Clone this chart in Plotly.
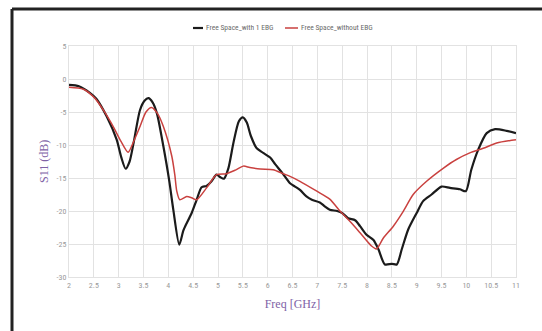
import plotly.graph_objects as go

# Measured S11 sweeps (GHz, dB)
freq_ebg = [2.0, 2.2, 2.42, 2.55, 2.76, 2.96, 3.05, 3.14, 3.22, 3.3, 3.43, 3.52, 3.6, 3.68,
            3.77, 3.9, 4.02, 4.1, 4.22, 4.3, 4.34, 4.47, 4.57, 4.67, 4.77, 4.87, 4.97, 5.05,
            5.12, 5.21, 5.31, 5.42, 5.5, 5.58, 5.66, 5.78, 5.91, 6.05, 6.15, 6.3, 6.45, 6.55,
            6.65, 6.78, 6.89, 7.05, 7.15, 7.25, 7.4, 7.5, 7.62, 7.76, 7.86, 7.99, 8.13, 8.23,
            8.36, 8.5, 8.6, 8.7, 8.83, 9.0, 9.13, 9.3, 9.5, 9.67, 9.87, 9.99, 10.1, 10.24,
            10.41, 10.58, 10.81, 11.0]
s11_ebg = [-0.9, -1.1, -2.1, -3.0, -5.7, -9.2, -11.8, -13.6, -12.5, -9.7, -4.7, -3.3, -2.9, -3.5,
           -5.2, -10.2, -15.5, -19.8, -25.1, -23.0, -22.3, -20.3, -18.3, -16.4, -16.2, -15.5, -14.5, -14.9,
           -15.1, -13.5, -9.7, -6.4, -5.8, -6.6, -8.6, -10.5, -11.2, -11.9, -12.9, -14.3, -15.8, -16.3,
           -16.8, -17.8, -18.3, -18.7, -19.3, -19.8, -20.0, -20.3, -21.1, -21.4, -22.3, -23.6, -24.4, -25.8,
           -28.1, -28.0, -28.1, -25.8, -22.8, -20.3, -18.5, -17.5, -16.3, -16.5, -16.7, -17.0, -13.75, -10.7,
           -8.2, -7.6, -7.85, -8.2]

freq_plain = [2.0, 2.29, 2.52, 2.7, 2.89, 3.05, 3.19, 3.3, 3.43, 3.55, 3.66, 3.78, 3.9, 4.07,
              4.13, 4.17, 4.23, 4.37, 4.47, 4.57, 4.77, 4.97, 5.17, 5.35, 5.51, 5.64, 5.85, 6.11,
              6.31, 6.45, 6.65, 6.99, 7.25, 7.46, 7.66, 7.86, 8.09, 8.19, 8.33, 8.53, 8.73, 8.93,
              9.2, 9.54, 9.8, 10.07, 10.34, 10.61, 11.0]
s11_plain = [-1.25, -1.55, -2.9, -4.8, -7.2, -9.5, -11.1, -9.5, -7.2, -5.0, -4.3, -5.2, -7.2, -11.7,
             -14.5, -17.0, -18.3, -17.8, -18.0, -18.3, -16.5, -14.5, -14.35, -13.8, -13.2, -13.4, -13.65, -13.75,
             -14.35, -14.75, -15.5, -17.0, -18.2, -20.05, -21.6, -23.3, -25.3, -25.75, -24.1, -22.3, -20.05, -17.5,
             -15.5, -13.5, -12.2, -11.2, -10.5, -9.7, -9.2]

series_names = ["Free Space_with 1 EBG", "Free Space_without EBG"]
x_ticks = [2, 2.5, 3, 3.5, 4, 4.5, 5, 5.5, 6, 6.5, 7, 7.5, 8, 8.5, 9, 9.5, 10, 10.5, 11]
y_ticks = [5, 0, -5, -10, -15, -20, -25, -30]

BLACK = "#1b1b1b"
RED = "#c9413f"
PURPLE = "#7e62a6"
TICK_GREY = "#9a9a9a"
GRID = "#e2e2e2"
TICK_FONT = "Liberation Sans Narrow, Roboto Condensed, Arial Narrow, sans-serif"
TITLE_FONT = "Liberation Serif, DejaVu Serif, serif"

W, H = 542, 331
ML, MR, MT, MB = 69, 26, 46, 54
PW, PH = W - ML - MR, H - MT - MB


def px_x(p):
    return (p - ML) / PW


def px_y(p):
    return (H - MB - p) / PH


fig = go.Figure()
fig.add_trace(go.Scatter(x=freq_ebg, y=s11_ebg, mode="lines", name=series_names[0],
                         line=dict(color=BLACK, width=2.2, shape="spline", smoothing=0.7)))
fig.add_trace(go.Scatter(x=freq_plain, y=s11_plain, mode="lines", name=series_names[1],
                         line=dict(color=RED, width=1.5, shape="spline", smoothing=0.7)))

axis_common = dict(showgrid=True, gridcolor=GRID, gridwidth=1, zeroline=False,
                   showline=True, linecolor=GRID, linewidth=1, mirror=True,
                   ticks="", tickfont=dict(family=TICK_FONT, size=8, color=TICK_GREY))

fig.update_xaxes(range=[2, 11], tickmode="array", tickvals=x_ticks,
                 ticktext=[f"{v:g}" for v in x_ticks],
                 title=dict(text="Freq [GHz]", font=dict(family=TITLE_FONT, size=12, color=PURPLE),
                            standoff=11),
                 **axis_common)
fig.update_yaxes(range=[-30, 5], tickmode="array", tickvals=y_ticks,
                 ticktext=[f"{v:g}" for v in y_ticks],
                 **axis_common)

# Compact legend row above the plot
shapes = []
annotations = []
legend_items = [(193, 203, BLACK, 2.2, series_names[0]), (285, 298, RED, 1.5, series_names[1])]
for x0, x1, col, w, label in legend_items:
    shapes.append(dict(type="line", xref="paper", yref="paper",
                       x0=px_x(x0), x1=px_x(x1), y0=px_y(28), y1=px_y(28),
                       line=dict(color=col, width=w)))
    annotations.append(dict(text=label, xref="paper", yref="paper", x=px_x(x1 + 0.5), y=px_y(28),
                            xanchor="left", yanchor="middle", showarrow=False,
                            font=dict(family=TICK_FONT, size=7.5, color="#6a6a6a")))

# Vertical axis title
annotations.append(dict(text="S11 (dB)", xref="paper", yref="paper", x=px_x(44), y=px_y(162),
                        xanchor="center", yanchor="middle", textangle=-90, showarrow=False,
                        font=dict(family=TITLE_FONT, size=12, color=PURPLE)))

# Dark frame along the top and left edges
shapes.append(dict(type="line", xref="paper", yref="paper",
                   x0=px_x(12), x1=px_x(W + 2), y0=px_y(9), y1=px_y(9),
                   line=dict(color="#222222", width=3)))
shapes.append(dict(type="line", xref="paper", yref="paper",
                   x0=px_x(12), x1=px_x(12), y0=px_y(9), y1=px_y(H + 2),
                   line=dict(color="#222222", width=3)))

fig.update_layout(width=W, height=H, margin=dict(l=ML, r=MR, t=MT, b=MB),
                  paper_bgcolor="white", plot_bgcolor="white", showlegend=False,
                  shapes=shapes, annotations=annotations)

fig.write_html("out.html")
